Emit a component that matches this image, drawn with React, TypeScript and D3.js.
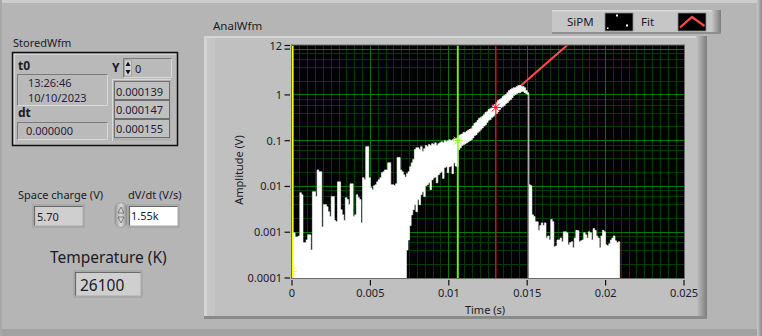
import React from 'react';
import * as d3 from 'd3';

// ---------- data ----------
const T_STEP = 0.0001; // s per bin (min/max decimated SiPM waveform)
const sipmHigh = [
  0.00097, 0.00097, 0.00079, 0.00079, 0.00083, 0.0073, 0.0066, 0.00059, 0.00059, 0.00068,
  0.00088, 0.00088, 0.00041, 0.0077, 0.0077, 0.006, 0.023, 0.021, 0.021, 0.0013,
  0.004, 0.004, 0.0036, 0.0028, 0.0022, 0.006, 0.006, 0.0018, 0.0017, 0.0126,
  0.0126, 0.0031, 0.0024, 0.0018, 0.0057, 0.0052, 0.004, 0.0114, 0.0114, 0.0022,
  0.0024, 0.0066, 0.0057, 0.0052, 0.0016, 0.0155, 0.014, 0.074, 0.074, 0.0155,
  0.0094, 0.0085, 0.0104, 0.0109, 0.0126, 0.014, 0.0155, 0.02, 0.021, 0.023,
  0.023, 0.033, 0.033, 0.0109, 0.0109, 0.0104, 0.0114, 0.043, 0.043, 0.023,
  0.021, 0.018, 0.016, 0.019, 0.021, 0.027, 0.033, 0.039, 0.064, 0.07,
  0.07, 0.064, 0.074, 0.058, 0.067, 0.078, 0.074, 0.082, 0.078, 0.086,
  0.082, 0.09, 0.078, 0.086, 0.09, 0.095, 0.09, 0.1, 0.095, 0.1,
  0.105, 0.1, 0.105, 0.11, 0.11, 0.115, 0.13, 0.135, 0.14, 0.15,
  0.15, 0.16, 0.17, 0.175, 0.18, 0.21, 0.24, 0.25, 0.28, 0.31,
  0.32, 0.34, 0.37, 0.41, 0.43, 0.48, 0.5, 0.53, 0.59, 0.62,
  0.68, 0.75, 0.79, 0.83, 0.92, 0.97, 1.02, 1.12, 1.24, 1.31,
  1.37, 1.44, 1.44, 1.52, 1.6, 1.6, 1.52, 1.52, 1.44, 1.24,
  1.12, 0.0109, 0.0104, 0.0024, 0.0022, 0.0017, 0.0017, 0.0011, 0.0014, 0.0016,
  0.0014, 0.0016, 0.00075, 0.00083, 0.00068, 0.0019, 0.0017, 0.00048, 0.0005, 0.00068,
  0.00068, 0.00075, 0.00062, 0.00102, 0.00102, 0.00097, 0.00053, 0.00059, 0.00062, 0.00046,
  0.00075, 0.0011, 0.00108, 0.00062, 0.00065, 0.00068, 0.00097, 0.00088, 0.00075, 0.00102,
  0.00097, 0.00068, 0.0012, 0.0011, 0.00083, 0.00075, 0.00046, 0.00083, 0.0011, 0.00102,
  0.00053, 0.0005, 0.00056, 0.00068, 0.00075, 0.00083, 0.00065, 0.00059, 0.00062,
];
const sipmLow = [
  0.00005, 0.00005, 0.00005, 0.00005, 0.00005, 0.00005, 0.00005, 0.00005, 0.00005, 0.00005,
  0.00005, 0.00005, 0.00005, 0.00005, 0.00005, 0.00005, 0.00005, 0.00005, 0.00005, 0.00005,
  0.00005, 0.00005, 0.00005, 0.00005, 0.00005, 0.00005, 0.00005, 0.00005, 0.00005, 0.00005,
  0.00005, 0.00005, 0.00005, 0.00005, 0.00005, 0.00005, 0.00005, 0.00005, 0.00005, 0.00005,
  0.00005, 0.00005, 0.00005, 0.00005, 0.00005, 0.00005, 0.00005, 0.00005, 0.00005, 0.00005,
  0.00005, 0.00005, 0.00005, 0.00005, 0.00005, 0.00005, 0.00005, 0.00005, 0.00005, 0.00005,
  0.00005, 0.00005, 0.00005, 0.00005, 0.00005, 0.00005, 0.00005, 0.00005, 0.00005, 0.00005,
  0.00005, 0.00005, 0.00005, 0.00041, 0.00068, 0.0014, 0.0024, 0.0031, 0.004, 0.0028,
  0.0052, 0.004, 0.0066, 0.0077, 0.006, 0.0104, 0.0109, 0.012, 0.0085, 0.014,
  0.0155, 0.016, 0.012, 0.018, 0.02, 0.021, 0.015, 0.026, 0.027, 0.02,
  0.027, 0.028, 0.019, 0.033, 0.028, 0.027, 0.064, 0.07, 0.078, 0.082,
  0.086, 0.09, 0.095, 0.1, 0.105, 0.115, 0.13, 0.135, 0.15, 0.16,
  0.175, 0.19, 0.21, 0.22, 0.25, 0.28, 0.29, 0.32, 0.34, 0.37,
  0.39, 0.43, 0.48, 0.53, 0.56, 0.59, 0.65, 0.68, 0.75, 0.79,
  0.87, 0.97, 1.02, 1.07, 1.12, 1.12, 1.18, 1.18, 1.12, 1.07,
  1.02, 0.00005, 0.00005, 0.00005, 0.00005, 0.00005, 0.00005, 0.00005, 0.00005, 0.00005,
  0.00005, 0.00005, 0.00005, 0.00005, 0.00005, 0.00005, 0.00005, 0.00005, 0.00005, 0.00005,
  0.00005, 0.00005, 0.00005, 0.00005, 0.00005, 0.00005, 0.00005, 0.00005, 0.00005, 0.00005,
  0.00005, 0.00005, 0.00005, 0.00005, 0.00005, 0.00005, 0.00005, 0.00005, 0.00005, 0.00005,
  0.00005, 0.00005, 0.00005, 0.00005, 0.00005, 0.00005, 0.00005, 0.00005, 0.00005, 0.00005,
  0.00005, 0.00005, 0.00005, 0.00005, 0.00005, 0.00005, 0.00005, 0.00005, 0.00005,
];
const fitTime = [0, 0.0176];
const fitValue = [0.000069, 12.6];
const cursorTime = [0, 0.01058, 0.013];
const cursorValue = [0.00014, 0.1, 0.53];
const cursorColor = ['#ffff00', '#88ff22', '#ff1010'];

const xTicks = [0, 0.005, 0.01, 0.015, 0.02, 0.025];
const xTickLabels = ['0', '0.005', '0.01', '0.015', '0.02', '0.025'];
const yTicks = [0.0001, 0.001, 0.01, 0.1, 1, 10, 12];
const yTickLabels = ['0.0001', '0.001', '0.01', '0.1', '1', '', '12'];

const storedT0 = ['13:26:46', '10/10/2023'];
const storedDt = '0.000000';
const storedIndex = '0';
const storedY = ['0.000139', '0.000147', '0.000155'];
const spaceCharge = '5.70';
const dvdt = '1.55k';
const temperature = '26100';

// ---------- layout ----------
const W = 762, H = 336;
const PL = 292, PR = 684, PT = 45.5, PB = 278;
const FONT = "'Noto Sans', 'Open Sans', sans-serif";
const TXT = '#1a1a28';

const Sunken = ({ x, y, w, h, fill = '#cfcfcf', frame = '#a9a9a9' }) => (
  <g>
    <rect x={x} y={y} width={w} height={h} fill={frame} />
    <rect x={x + 2.5} y={y + 2.5} width={w - 5} height={h - 5} fill={fill} />
    <path d={`M${x + 2.5},${y + h - 2.5}V${y + 2.5}H${x + w - 2.5}`} stroke="#6a6a6a" strokeWidth={1.2} fill="none" />
  </g>
);

export default function App() {
  const x = d3.scaleLinear().domain([0, 0.025]).range([PL, PR]);
  const y = d3.scaleLog().domain([0.0001, 12]).range([PB, PT]);

  const minorX = d3.range(0, 51).map((k) => k * 0.0005);
  const minorY: number[] = [];
  for (let e = -4; e <= 0; e++) for (const k of [2, 4, 6, 8]) minorY.push(k * Math.pow(10, e));
  const majorY = [0.0001, 0.001, 0.01, 0.1, 1, 10];

  const pts = sipmHigh.map((h, i) => ({ t: i * T_STEP, hi: h, lo: sipmLow[i] }));
  const last = pts[pts.length - 1];
  pts.push({ t: pts.length * T_STEP, hi: last.hi, lo: last.lo });
  const area = d3
    .area<{ t: number; hi: number; lo: number }>()
    .x((d) => x(d.t))
    .y0((d) => y(d.lo))
    .y1((d) => y(d.hi))
    .curve(d3.curveStepAfter);

  const fitLine = d3
    .line<number>()
    .x((d, i) => x(fitTime[i]))
    .y((d) => y(d));

  return (
    <div style={{ position: 'absolute', left: 0, top: 0 }}>
      <svg width={W} height={H} style={{ display: 'block' }} fontFamily={FONT}>
        <defs>
          <clipPath id="plotClip">
            <rect x={PL} y={PT} width={PR - PL} height={PB - PT} />
          </clipPath>
          <linearGradient id="rEdge" x1="0" x2="1" y1="0" y2="0">
            <stop offset="0" stopColor="#c4c4c4" />
            <stop offset="1" stopColor="#7c7c7c" />
          </linearGradient>
          <linearGradient id="winEdge" x1="0" x2="1" y1="0" y2="0">
            <stop offset="0" stopColor="#c8c8c8" />
            <stop offset="1" stopColor="#8a8a8a" />
          </linearGradient>
          <linearGradient id="spin" x1="0" x2="1" y1="0" y2="0">
            <stop offset="0" stopColor="#9a9a9a" />
            <stop offset="0.5" stopColor="#dcdcdc" />
            <stop offset="1" stopColor="#8a8a8a" />
          </linearGradient>
        </defs>

        {/* panel background */}
        <rect x={0} y={0} width={W} height={H} fill="#b5b5b5" />
        <rect x={0} y={0} width={W} height={3} fill="#cdcdcd" />
        <rect x={0} y={H - 7} width={W} height={7} fill="#a2a2a2" />
        <rect x={W - 5} y={0} width={5} height={H} fill="url(#winEdge)" />
        <rect x={0} y={0} width={2} height={H} fill="#a8a8a8" />

        {/* ---------- left: StoredWfm cluster ---------- */}
        <text x={13} y={47} fontSize={11} fill={TXT}>StoredWfm</text>
        <rect x={12.5} y={52.5} width={165} height={93} fill="#b9b9b9" stroke="#111" strokeWidth={1.5} />
        <path d="M14.5,144V54.5H176" stroke="#d8d8d8" strokeWidth={1.2} fill="none" />
        <text x={18} y={70} fontSize={12} fontWeight="bold" fill={TXT}>t0</text>
        <rect x={17} y={74} width={91} height={32} fill="#bababa" />
        <path d="M17.5,106V74.5H108" stroke="#7a7a7a" strokeWidth={1} fill="none" />
        <path d="M17.5,105.5H107.5V74.5" stroke="#dadada" strokeWidth={1} fill="none" />
        <text x={28} y={86.5} fontSize={11} fill="#2a1c3c">{storedT0[0]}</text>
        <text x={28} y={102} fontSize={11} fill="#2a1c3c">{storedT0[1]}</text>
        <text x={18} y={117} fontSize={12} fontWeight="bold" fill={TXT}>dt</text>
        <rect x={17} y={122} width={91} height={18} fill="#bababa" />
        <path d="M17.5,140V122.5H108" stroke="#7a7a7a" strokeWidth={1} fill="none" />
        <path d="M17.5,139.5H107.5V122.5" stroke="#dadada" strokeWidth={1} fill="none" />
        <text x={26} y={135} fontSize={11} fill="#2a1c3c">{storedDt}</text>

        <text x={112} y={72} fontSize={12} fontWeight="bold" fill={TXT}>Y</text>
        <rect x={123} y={58} width={49} height={20} fill="#bababa" />
        <path d="M123.5,78V58.5H172" stroke="#7a7a7a" strokeWidth={1} fill="none" />
        <path d="M123.5,77.5H171.5V58.5" stroke="#dadada" strokeWidth={1} fill="none" />
        <rect x={124.5} y={60} width={7} height={16} fill="#d4d4d4" stroke="#8a8a8a" strokeWidth={0.6} />
        <path d="M128,61.5L130.5,66H125.5Z M128,74.5L130.5,70H125.5Z" fill="#111" />
        <text x={135} y={73} fontSize={11} fill={TXT}>{storedIndex}</text>

        <rect x={112} y={79} width={59} height={62} fill="#b1b1b1" />
        <path d="M112.5,141V79.5H171" stroke="#dadada" strokeWidth={1} fill="none" />
        {storedY.map((v, i) => (
          <g key={v}>
            <rect x={114.5} y={81.5 + i * 19} width={55} height={18} fill="#c0c0c0" stroke="#6e6e6e" strokeWidth={1} />
            <text x={116} y={95.5 + i * 18.5} fontSize={11} fill="#1c2040">{v}</text>
          </g>
        ))}

        {/* ---------- left: controls ---------- */}
        <text x={18} y={199} fontSize={11} fill={TXT}>Space charge (V)</text>
        <Sunken x={32} y={204} w={53} h={24} />
        <text x={37} y={220.5} fontSize={11} fill={TXT}>{spaceCharge}</text>

        <text x={128} y={199} fontSize={11} fill={TXT}>dV/dt (V/s)</text>
        <rect x={115} y={203} width={12} height={24} rx={5} fill="url(#spin)" stroke="#8a8a8a" strokeWidth={0.6} />
        <path d="M121,207L124,213H118Z M121,223L124,217H118Z" fill="none" stroke="#6a6a6a" strokeWidth={0.8} />
        <Sunken x={127} y={204} w={53} h={24} fill="#ffffff" />
        <text x={131} y={220} fontSize={11} fill={TXT}>{dvdt}</text>

        <text x={50} y={263} fontSize={15.5} fill={TXT}>Temperature (K)</text>
        <Sunken x={73} y={270} w={70} h={28} />
        <text x={80} y={290.5} fontSize={15.5} fill={TXT}>{temperature}</text>

        {/* ---------- graph frame ---------- */}
        <text x={213} y={30} fontSize={11.5} fill={TXT}>AnalWfm</text>
        <rect x={204} y={36} width={503} height={283} fill="#c0c0c0" />
        <rect x={204} y={36} width={503} height={2} fill="#d6d6d6" />
        <rect x={204} y={36} width={3} height={283} fill="#d4d4d4" />
        <rect x={207} y={38} width={8} height={281} fill="#c6c6c6" />
        <rect x={696} y={36} width={11} height={283} fill="url(#rEdge)" />
        <rect x={204} y={316} width={503} height={3} fill="#8a8a8a" />

        {/* legend */}
        <rect x={552} y={10} width={169} height={24} fill="#c6c6c6" />
        <rect x={552} y={10} width={169} height={1.5} fill="#dadada" />
        <rect x={712} y={10} width={9} height={24} fill="url(#rEdge)" />
        <rect x={552} y={32} width={169} height={2} fill="#8e8e8e" />
        <text x={567} y={26} fontSize={11.5} fill={TXT}>SiPM</text>
        <rect x={605} y={13} width={28} height={18} fill="#000" stroke="#888" strokeWidth={0.8} />
        <rect x={616} y={14.5} width={2} height={2} fill="#fff" />
        <rect x={626} y={24.5} width={2} height={2} fill="#fff" />
        <rect x={607} y={27.5} width={1.5} height={1.5} fill="#fff" />
        <text x={641} y={26} fontSize={11.5} fill={TXT}>Fit</text>
        <rect x={678} y={13} width={28} height={18} fill="#000" stroke="#888" strokeWidth={0.8} />
        <path d="M680,27.5L692,17L704.5,26" stroke="#ff4a4a" strokeWidth={2.2} fill="none" />

        {/* plot area */}
        <rect x={PL - 1} y={PT - 1} width={PR - PL + 2} height={PB - PT + 2} fill="#6a6a6a" />
        <rect x={PL} y={PT} width={PR - PL} height={PB - PT} fill="#000" />
        <g clipPath="url(#plotClip)" shapeRendering="crispEdges">
          {minorX.map((t) => (
            <line key={'mx' + t} x1={x(t)} x2={x(t)} y1={PT} y2={PB} stroke="#003c00" strokeWidth={1} />
          ))}
          {minorY.map((v) => (
            <line key={'my' + v} x1={PL} x2={PR} y1={y(v)} y2={y(v)} stroke="#003c00" strokeWidth={1} />
          ))}
          {xTicks.map((t) => (
            <line key={'Mx' + t} x1={x(t)} x2={x(t)} y1={PT} y2={PB} stroke="#007a00" strokeWidth={1} />
          ))}
          {majorY.map((v) => (
            <line key={'My' + v} x1={PL} x2={PR} y1={y(v)} y2={y(v)} stroke="#007a00" strokeWidth={1} />
          ))}
        </g>
        <g clipPath="url(#plotClip)">
          <path d={fitLine(fitValue) || ''} stroke="#ff4a4a" strokeWidth={2.2} fill="none" />
          <path d={area(pts) || ''} fill="#ffffff" stroke="#ffffff" strokeWidth={0.6} />
          {cursorTime.map((t, i) => (
            <g key={'c' + i}>
              <line x1={x(t) + (i === 0 ? 0.8 : 0)} x2={x(t) + (i === 0 ? 0.8 : 0)} y1={PT} y2={PB} stroke={cursorColor[i]} strokeWidth={i === 2 ? 1.2 : 1.6} />
              <g stroke={cursorColor[i]} strokeWidth={1}>
                <line x1={x(t) - 4} x2={x(t) + 4} y1={y(cursorValue[i]) - 4} y2={y(cursorValue[i]) + 4} />
                <line x1={x(t) - 4} x2={x(t) + 4} y1={y(cursorValue[i]) + 4} y2={y(cursorValue[i]) - 4} />
                <line x1={x(t) - 5} x2={x(t) + 5} y1={y(cursorValue[i])} y2={y(cursorValue[i])} />
              </g>
            </g>
          ))}
        </g>

        {/* axes */}
        {yTicks.map((v, i) => (
          <g key={'yt' + v}>
            <line x1={284.5} x2={290} y1={y(v)} y2={y(v)} stroke="#111" strokeWidth={1.2} />
            {yTickLabels[i] && (
              <text x={282} y={y(v) + 4} fontSize={11} textAnchor="end" fill={TXT}>{yTickLabels[i]}</text>
            )}
          </g>
        ))}
        {xTicks.map((t, i) => (
          <g key={'xt' + t}>
            <line x1={x(t)} x2={x(t)} y1={280} y2={285.5} stroke="#111" strokeWidth={1.2} />
            <text x={x(t)} y={297} fontSize={11} textAnchor="middle" fill={TXT}>{xTickLabels[i]}</text>
          </g>
        ))}
        <text transform={`translate(243,170) rotate(-90)`} fontSize={11} textAnchor="middle" fill={TXT}>Amplitude (V)</text>
        <text x={485} y={314} fontSize={11} textAnchor="middle" fill={TXT}>Time (s)</text>
      </svg>
    </div>
  );
}
